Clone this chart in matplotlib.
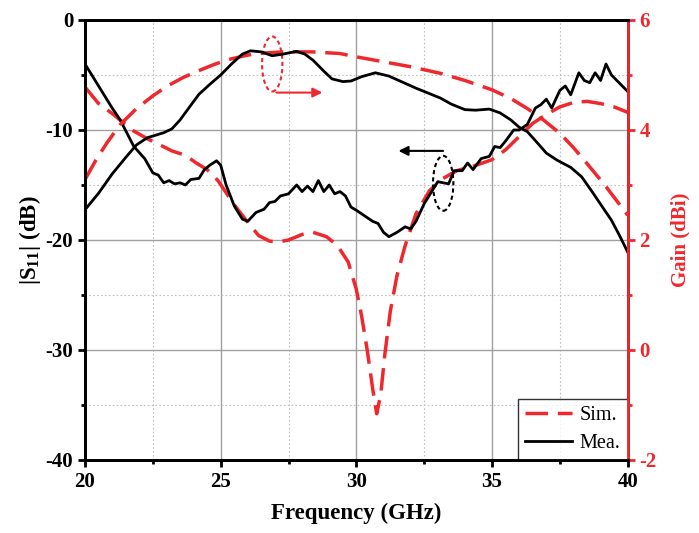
import matplotlib.pyplot as plt
import numpy as np
from matplotlib.patches import Ellipse

plt.rcParams['font.family'] = ['Liberation Serif', 'DejaVu Serif']
plt.rcParams['axes.unicode_minus'] = False
plt.rcParams['mathtext.fontset'] = 'custom'
plt.rcParams['mathtext.rm'] = 'Liberation Serif:bold'
plt.rcParams['mathtext.bf'] = 'Liberation Serif:bold'

red = '#f0282d'

# |S11| measured
f_s11_mea = [20.0, 20.3, 20.7, 21.0, 21.3, 21.8, 22.2, 22.5, 22.7, 22.9, 23.1, 23.3, 23.5, 23.7,
             23.9, 24.2, 24.4, 24.6, 24.85, 25.0, 25.2, 25.5, 25.8, 26.0, 26.3, 26.6, 26.8, 27.0,
             27.2, 27.5, 27.8, 28.0, 28.2, 28.4, 28.6, 28.8, 29.0, 29.2, 29.4, 29.6, 29.8, 30.0,
             30.3, 30.6, 30.8, 31.0, 31.2, 31.5, 31.8, 32.0, 32.2, 32.5, 32.8, 33.0, 33.2, 33.4,
             33.6, 33.9, 34.1, 34.3, 34.6, 34.9, 35.1, 35.3, 35.5, 35.8, 36.0, 36.3, 36.6, 36.8,
             37.0, 37.2, 37.5, 37.7, 37.9, 38.2, 38.4, 38.6, 38.8, 39.0, 39.2, 39.4, 39.6, 39.8, 40.0]
s11_mea = [-4.0, -5.2, -6.8, -8.0, -9.1, -11.5, -12.6, -13.9, -14.1, -14.8, -14.6, -14.9, -14.8, -15.0,
           -14.5, -14.4, -13.6, -13.2, -12.8, -13.2, -15.0, -16.9, -18.1, -18.3, -17.5, -17.2, -16.6, -16.5,
           -16.0, -15.8, -15.0, -15.6, -15.1, -15.6, -14.6, -15.6, -15.0, -15.8, -15.6, -16.0, -17.0, -17.3,
           -17.8, -18.3, -18.5, -19.3, -19.7, -19.3, -18.8, -19.0, -18.3, -16.7, -15.5, -14.7, -14.8, -14.9,
           -13.7, -13.7, -13.0, -13.6, -12.6, -12.4, -11.5, -11.6, -11.0, -10.0, -10.0, -9.5, -8.0, -7.7,
           -7.2, -8.0, -6.4, -6.0, -6.8, -4.8, -5.5, -5.7, -4.8, -5.5, -4.0, -5.0, -5.5, -6.0, -6.5]

# |S11| simulated
f_s11_sim = [20.0, 20.5, 21.0, 21.3, 21.8, 22.3, 22.8, 23.2, 23.7, 24.1, 24.5, 24.9, 25.5, 26.0,
             26.4, 26.8, 27.1, 27.5, 28.0, 28.4, 28.9, 29.3, 29.7, 30.0, 30.2, 30.4, 30.6, 30.75,
             30.9, 31.05, 31.25, 31.5, 31.8, 32.2, 32.7, 33.2, 33.7, 34.3, 35.0, 35.5, 36.0, 36.5,
             37.0, 37.5, 38.0, 38.5, 39.0, 39.5, 40.0]
s11_sim = [-6.1, -7.6, -8.5, -9.1, -10.1, -10.8, -11.4, -11.9, -12.3, -13.0, -13.6, -14.6, -16.8, -18.4,
           -19.6, -20.1, -20.2, -20.0, -19.5, -19.3, -19.7, -20.5, -22.0, -24.5, -27.0, -30.0, -33.5, -35.8,
           -34.0, -30.4, -26.5, -23.2, -20.5, -17.6, -15.5, -14.4, -13.7, -13.3, -12.7, -11.8, -10.6, -9.4,
           -8.6, -7.9, -7.5, -7.4, -7.6, -7.9, -8.4]

# Gain simulated
f_gain_sim = [20.0, 20.4, 20.8, 21.3, 21.9, 22.5, 23.0, 23.6, 24.1, 24.7, 25.2, 25.8, 26.3, 27.3,
              28.4, 29.4, 30.0, 31.0, 32.0, 33.1, 34.0, 35.0, 35.7, 36.3, 36.9, 37.5, 38.0, 38.5,
              39.2, 40.0]
gain_sim = [3.1, 3.45, 3.76, 4.1, 4.39, 4.62, 4.79, 4.95, 5.06, 5.18, 5.27, 5.34, 5.39, 5.42,
            5.42, 5.39, 5.33, 5.24, 5.15, 5.03, 4.90, 4.73, 4.57, 4.39, 4.18, 3.94, 3.68, 3.39,
            2.97, 2.45]

# Gain measured
f_gain_mea = [20.0, 20.5, 21.0, 21.5, 21.9, 22.3, 22.9, 23.2, 23.5, 23.9, 24.2, 24.6, 25.0, 25.4,
              25.8, 26.1, 26.5, 26.9, 27.3, 27.8, 28.1, 28.4, 28.8, 29.1, 29.5, 29.8, 30.2, 30.7,
              31.2, 31.7, 32.2, 32.7, 33.1, 33.5, 34.0, 34.4, 34.9, 35.3, 35.7, 36.0, 36.3, 36.7,
              37.0, 37.4, 37.9, 38.3, 38.7, 39.0, 39.4, 39.7, 40.0]
gain_mea = [2.55, 2.85, 3.2, 3.5, 3.73, 3.86, 3.95, 4.02, 4.18, 4.45, 4.65, 4.83, 5.0, 5.2,
            5.38, 5.44, 5.42, 5.35, 5.38, 5.43, 5.38, 5.27, 5.07, 4.93, 4.88, 4.89, 4.97, 5.04,
            4.98, 4.87, 4.76, 4.66, 4.58, 4.47, 4.37, 4.36, 4.38, 4.31, 4.18, 4.05, 3.97, 3.75,
            3.58, 3.45, 3.32, 3.15, 2.87, 2.65, 2.36, 2.08, 1.78]

fig = plt.figure(figsize=(6.99, 5.33), dpi=100)
ax = fig.add_axes([0.1216, 0.137, 0.7764, 0.8255])
ax2 = ax.twinx()

dash = (6.5, 2.8)
ax.plot(f_s11_sim, s11_sim, color=red, lw=2.5, dashes=dash, label='Sim.')
ax.plot(f_s11_mea, s11_mea, color='black', lw=2, label='Mea.')
ax2.plot(f_gain_sim, gain_sim, color=red, lw=2.5, dashes=dash)
ax2.plot(f_gain_mea, gain_mea, color='black', lw=2)

ax.set_xlim(20, 40)
ax.set_ylim(-40, 0)
ax2.set_ylim(-2, 6)
ax.set_xticks([20, 25, 30, 35, 40])
ax.set_xticks([22.5, 27.5, 32.5, 37.5], minor=True)
ax.set_yticks([0, -10, -20, -30, -40])
ax.set_yticks([-5, -15, -25, -35], minor=True)
ax2.set_yticks([-2, 0, 2, 4, 6])
ax2.set_yticks([-1, 1, 3, 5], minor=True)

ax.grid(True, which='major', color='#a0a0a0', lw=1, ls='-')
ax.grid(True, which='minor', color='#c0c0c0', lw=0.8, ls=(0, (1.5, 2)))
ax.set_axisbelow(True)

for a in (ax, ax2):
    for s in a.spines.values():
        s.set_linewidth(2)
ax2.spines['right'].set_color(red)

ax.tick_params(axis='both', which='major', direction='out', length=5, width=2, labelsize=15)
ax.tick_params(axis='both', which='minor', direction='out', length=3, width=2)
ax2.tick_params(axis='y', which='major', direction='out', length=5, width=2, colors=red, labelsize=15)
ax2.tick_params(axis='y', which='minor', direction='out', length=3, width=2, colors=red)
for lab in ax.get_xticklabels() + ax.get_yticklabels() + ax2.get_yticklabels():
    lab.set_fontweight('bold')

ax.set_xlabel('Frequency (GHz)', fontsize=16.5, fontweight='bold', labelpad=8)
ax.set_ylabel(r'|S$_{11}$| (dB)', fontsize=16.5, fontweight='bold', labelpad=2)
ax2.set_ylabel('Gain (dBi)', fontsize=15, fontweight='bold', color=red, labelpad=10)

# annotations
ax.add_patch(Ellipse((26.9, -4.0), 0.75, 5.0, fill=False, ec=red, lw=1.5, ls=(0, (2, 1.5)), zorder=5))
ax.annotate('', xy=(28.85, -6.6), xytext=(26.95, -6.6),
            arrowprops=dict(arrowstyle='-|>', color=red, lw=1.5, mutation_scale=14))
ax.add_patch(Ellipse((33.2, -14.85), 0.75, 5.0, fill=False, ec='black', lw=1.5, ls=(0, (2, 1.5)), zorder=5))
ax.annotate('', xy=(31.45, -11.9), xytext=(33.3, -11.9),
            arrowprops=dict(arrowstyle='-|>', color='black', lw=1.5, mutation_scale=14))

leg = ax.legend(loc='lower right', fontsize=14.5, frameon=True, fancybox=False, edgecolor='black',
                borderaxespad=0, handlelength=2.3, borderpad=0.35, labelspacing=0.45, handletextpad=0.4)
leg.get_frame().set_linewidth(1)
leg.set_zorder(10)

fig.savefig('out.png', dpi=100)
